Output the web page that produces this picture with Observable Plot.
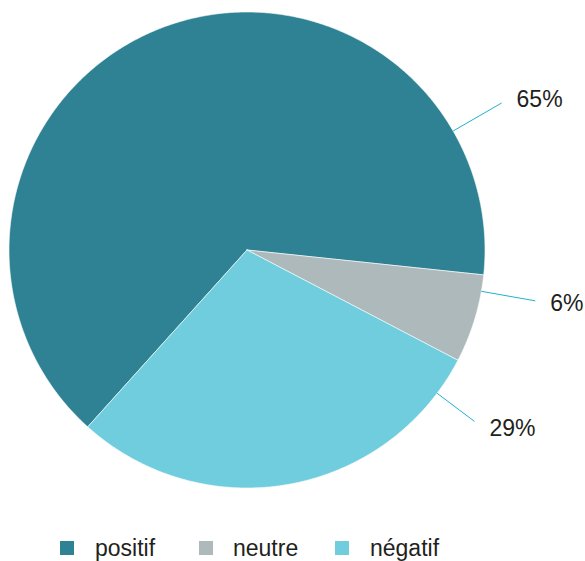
<!DOCTYPE html>
<html>
<head>
<meta charset="utf-8">
<script src="https://cdn.jsdelivr.net/npm/d3@7"></script>
<script src="https://cdn.jsdelivr.net/npm/@observablehq/plot@0.6"></script>
<style>
  html, body { margin: 0; padding: 0; background: #ffffff; }
  #wrap { width: 585px; font-family: "Liberation Sans", Arial, sans-serif; }
  #chart svg { display: block; }
  #legend { position: relative; width: 585px; height: 41px; }
  .item { position: absolute; top: 21px; height: 14px; display: flex; align-items: center; }
  .sw { width: 14px; height: 14px; display: inline-block; }
  .lb { font-size: 23px; color: #231f20; line-height: 14px; white-space: nowrap; }
</style>
</head>
<body>
<div id="wrap">
  <div id="chart"></div>
  <div id="legend"></div>
</div>
<script>
// ---- data ----
const categories = ["positif", "neutre", "négatif"];
const values = [65, 6, 29];
const labels = ["65%", "6%", "29%"];
const colors = ["#2e8294", "#adb9bb", "#6fcddd"];

// ---- layout (not data) ----
const W = 585, H = 520;
const CX = 246.5, CY = 249.5, R = 238; // pixel centre and radius
const startDeg = 222;
const labelLayout = [
  { angle: 60, r: 1.235, dy: -3 },
  { angle: 100, r: 1.23, dy: 3 },
  { angle: 127, r: 1.197, dy: 7 }
];

const rows = categories.map((c, i) => ({ category: c, value: values[i], label: labels[i] }));
const start = startDeg * Math.PI / 180;
const arcs = d3.pie().sort(null).value(d => d.value).startAngle(start).endAngle(start + 2 * Math.PI)(rows);

// polygon points for each slice (unit radius, y up)
const slicePts = [];
arcs.forEach(a => {
  const cat = a.data.category;
  slicePts.push({ category: cat, x: 0, y: 0 });
  const n = Math.max(2, Math.ceil((a.endAngle - a.startAngle) / (Math.PI / 360)));
  for (let k = 0; k <= n; k++) {
    const t = a.startAngle + (a.endAngle - a.startAngle) * k / n;
    slicePts.push({ category: cat, x: Math.sin(t), y: Math.cos(t) });
  }
  slicePts.push({ category: cat, x: 0, y: 0 });
});

// connectors and labels
const conn = [];
const labelPts = [];
rows.forEach((d, i) => {
  const L = labelLayout[i];
  const t = L.angle * Math.PI / 180;
  conn.push({ category: d.category, x1: Math.sin(t), y1: Math.cos(t), x2: L.r * Math.sin(t), y2: L.r * Math.cos(t) });
  labelPts.push({ label: d.label, x: L.r * Math.sin(t), y: L.r * Math.cos(t), dy: L.dy });
});

const chart = Plot.plot({
  width: W,
  height: H,
  margin: 0,
  style: { background: "#ffffff", fontFamily: "'Liberation Sans', Arial, sans-serif" },
  x: { domain: [-CX / R, (W - CX) / R], axis: null },
  y: { domain: [-(H - CY) / R, CY / R], axis: null },
  color: { domain: categories, range: colors },
  marks: [
    Plot.line(slicePts, { x: "x", y: "y", z: "category", fill: "category", stroke: "#ffffff", strokeWidth: 0.6, curve: "linear" }),
    Plot.link(conn, { x1: "x1", y1: "y1", x2: "x2", y2: "y2", stroke: "#1fb3cb", strokeWidth: 1 }),
    ...labelPts.map(p => Plot.text([p], { x: "x", y: "y", text: "label", textAnchor: "start", dx: 15, dy: p.dy, fontSize: 23, fill: "#231f20" }))
  ]
});
document.getElementById("chart").appendChild(chart);

// legend
const legendPos = [[60, 95], [199, 233], [335, 370]];
const legend = document.getElementById("legend");
categories.forEach((c, i) => {
  const sw = document.createElement("div");
  sw.className = "item";
  sw.style.left = legendPos[i][0] + "px";
  sw.innerHTML = `<span class="sw" style="background:${colors[i]}"></span>`;
  legend.appendChild(sw);
  const lb = document.createElement("div");
  lb.className = "item";
  lb.style.left = legendPos[i][1] + "px";
  lb.innerHTML = `<span class="lb">${c}</span>`;
  legend.appendChild(lb);
});
</script>
</body>
</html>
